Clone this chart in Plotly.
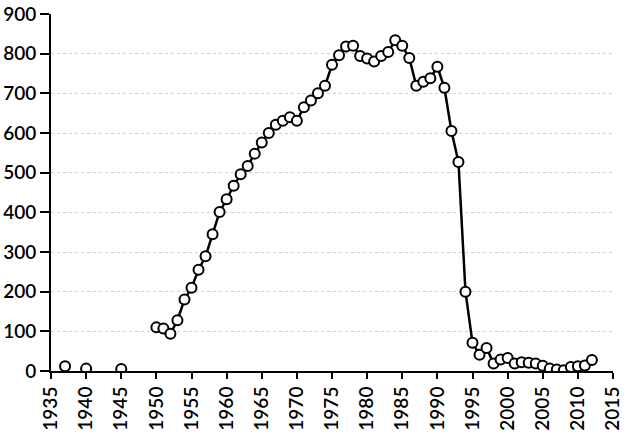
import plotly.graph_objects as go

# Early isolated observations
early_years = [1937, 1940, 1945]
early_values = [12, 6, 5]

# Continuous series
years = list(range(1950, 2013))
values = [110, 107, 94, 128, 180, 210, 255, 289, 345, 401,
          433, 467, 496, 517, 548, 576, 600, 621, 631, 640,
          631, 665, 682, 700, 719, 772, 796, 818, 820, 794,
          788, 780, 794, 804, 834, 820, 789, 719, 729, 738,
          767, 714, 605, 527, 200, 71, 41, 58, 19, 29,
          33, 19, 22, 21, 19, 13, 6, 4, 2, 10,
          12, 14, 28]

x_ticks = list(range(1935, 2016, 5))
y_ticks = list(range(0, 901, 100))

marker = dict(symbol="circle", size=10, color="white",
              line=dict(color="black", width=2))

fig = go.Figure()
fig.add_trace(go.Scatter(x=years, y=values, mode="lines+markers",
                         line=dict(color="black", width=2.5),
                         marker=marker, showlegend=False, hoverinfo="skip"))
fig.add_trace(go.Scatter(x=early_years, y=early_values, mode="markers",
                         marker=marker, showlegend=False, hoverinfo="skip"))

font = dict(family="Lato, Open Sans, sans-serif", size=19, color="black",
            weight=600)

fig.update_layout(
    width=627, height=435,
    margin=dict(l=51, r=14, t=14, b=64),
    paper_bgcolor="white", plot_bgcolor="white",
    font=font,
    xaxis=dict(range=[1935, 2015], tickmode="array", tickvals=x_ticks,
               ticktext=[str(v) for v in x_ticks], tickangle=-90,
               showline=True, linecolor="black", linewidth=2,
               ticks="outside", ticklen=6, tickwidth=2, tickcolor="black",
               showgrid=False, zeroline=False, automargin=False,
               ticklabeloverflow="allow"),
    yaxis=dict(range=[0, 900], tickmode="array", tickvals=y_ticks,
               ticktext=[str(v) for v in y_ticks],
               showline=True, linecolor="black", linewidth=2,
               ticks="outside", ticklen=9, tickwidth=2, tickcolor="black",
               showgrid=True, gridcolor="#d0d0d0", griddash="dot", gridwidth=1,
               zeroline=False, automargin=False,
               ticklabeloverflow="allow"),
)

fig.write_html("out.html", config={"displayModeBar": False},
               post_script="document.body.style.margin='0';document.body.style.overflow='hidden';")
